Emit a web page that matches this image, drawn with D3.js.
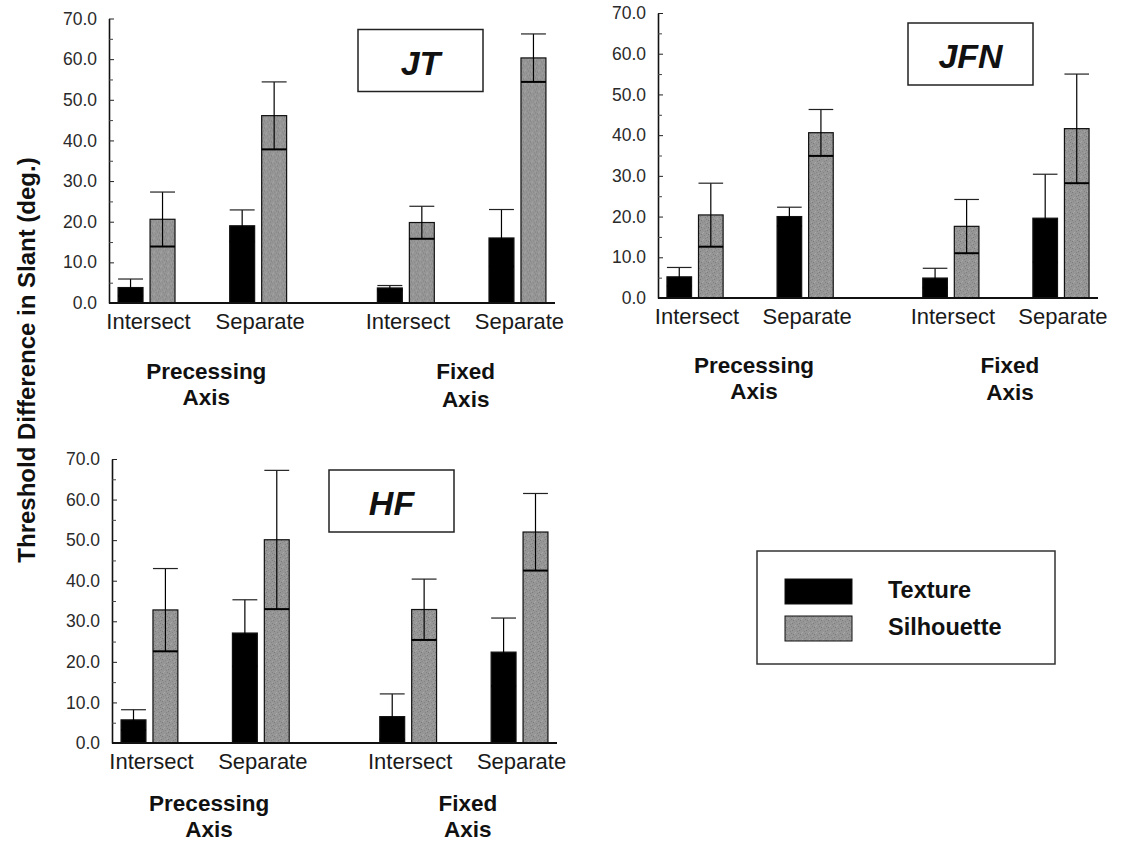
<!DOCTYPE html>
<html>
<head>
<meta charset="utf-8">
<script src="https://cdn.jsdelivr.net/npm/d3@7"></script>
<style>
  body { margin: 0; background: #fff; }
  svg { font-family: "Liberation Sans", Arial, Helvetica, sans-serif; }
</style>
</head>
<body>
<div id="chart"></div>
<script>
// ---- data ----
var axisTypes = ["Precessing", "Fixed"];
var conditions = ["Intersect", "Separate"];
var seriesNames = ["Texture", "Silhouette"];
var yTicks = [0, 10, 20, 30, 40, 50, 60, 70];

// order: Precessing-Intersect, Precessing-Separate, Fixed-Intersect, Fixed-Separate
var jtTexture = [3.8, 19.0, 3.7, 16.0];
var jtTextureErr = [2.1, 3.9, 0.6, 7.0];
var jtSilhouette = [20.6, 46.1, 19.8, 60.3];
var jtSilhouetteErr = [6.7, 8.3, 4.0, 5.9];

var jfnTexture = [5.2, 20.0, 4.9, 19.6];
var jfnTextureErr = [2.3, 2.3, 2.4, 10.8];
var jfnSilhouette = [20.4, 40.6, 17.6, 41.6];
var jfnSilhouetteErr = [7.8, 5.7, 6.6, 13.4];

var hfTexture = [5.7, 27.1, 6.5, 22.4];
var hfTextureErr = [2.5, 8.2, 5.6, 8.4];
var hfSilhouette = [32.8, 50.1, 32.9, 52.0];
var hfSilhouetteErr = [10.2, 17.1, 7.5, 9.5];

var W = 1135, H = 843;

var svg = d3.select("#chart").append("svg")
    .attr("width", W)
    .attr("height", H);

// grainy grey fill for the silhouette bars
var defs = svg.append("defs");
var pat = defs.append("pattern")
    .attr("id", "grain")
    .attr("patternUnits", "userSpaceOnUse")
    .attr("width", 7).attr("height", 7);
pat.append("rect").attr("width", 7).attr("height", 7).attr("fill", "#969696");
[[0, 0, "#7c7c7c"], [3, 2, "#a9a9a9"], [1, 4, "#7a7a7a"], [4, 5, "#858585"], [5, 1, "#838383"],
 [2, 3, "#a6a6a6"], [6, 6, "#a4a4a4"], [6, 3, "#808080"], [2, 6, "#8a8a8a"]]
    .forEach(function (p) {
        pat.append("rect").attr("x", p[0]).attr("y", p[1])
            .attr("width", 1).attr("height", 1).attr("fill", p[2]);
    });

function panel(name, tex, texErr, sil, silErr, box) {
    var g = svg.append("g")
        .attr("transform", "translate(" + box.x + "," + box.top + ")");
    var height = box.bottom - box.top;
    var width = box.width;

    var y = d3.scaleLinear().domain([0, 70]).range([height, 0]);

    var xGroup = d3.scaleBand().domain(axisTypes)
        .range([0, width]).paddingInner(0.35).paddingOuter(0.035);
    var xCond = d3.scaleBand().domain(conditions)
        .range([0, xGroup.bandwidth()]).paddingInner(0.49);
    var xSer = d3.scaleBand().domain(seriesNames)
        .range([0, xCond.bandwidth()]).paddingInner(0.22);

    var rows = [];
    axisTypes.forEach(function (a, ai) {
        conditions.forEach(function (c, ci) {
            var k = ai * 2 + ci;
            rows.push({axis: a, cond: c, series: "Texture", v: tex[k], e: texErr[k]});
            rows.push({axis: a, cond: c, series: "Silhouette", v: sil[k], e: silErr[k]});
        });
    });
    function bx(d) { return xGroup(d.axis) + xCond(d.cond) + xSer(d.series); }

    // bars
    g.selectAll("rect.bar")
        .data(rows)
        .enter().append("rect")
        .attr("class", "bar")
        .attr("x", bx)
        .attr("y", function (d) { return y(d.v); })
        .attr("width", xSer.bandwidth())
        .attr("height", function (d) { return y(0) - y(d.v); })
        .attr("fill", function (d) { return d.series === "Texture" ? "#000" : "url(#grain)"; })
        .attr("stroke", "#111")
        .attr("stroke-width", 1.2);

    // error bars
    var eb = g.selectAll("g.err")
        .data(rows)
        .enter().append("g").attr("class", "err");
    eb.append("line")
        .attr("x1", function (d) { return bx(d) + xSer.bandwidth() / 2; })
        .attr("x2", function (d) { return bx(d) + xSer.bandwidth() / 2; })
        .attr("y1", function (d) { return y(d.v + d.e); })
        .attr("y2", function (d) { return y(d.v - d.e); })
        .attr("stroke", "#000").attr("stroke-width", 1.2);
    eb.append("line")
        .attr("x1", bx)
        .attr("x2", function (d) { return bx(d) + xSer.bandwidth(); })
        .attr("y1", function (d) { return y(d.v + d.e); })
        .attr("y2", function (d) { return y(d.v + d.e); })
        .attr("stroke", "#222").attr("stroke-width", 1.2);
    eb.append("line")
        .attr("x1", bx)
        .attr("x2", function (d) { return bx(d) + xSer.bandwidth(); })
        .attr("y1", function (d) { return y(d.v - d.e); })
        .attr("y2", function (d) { return y(d.v - d.e); })
        .attr("stroke", "#000").attr("stroke-width", 2);

    // y axis, ticks pointing inward
    var yAxis = d3.axisLeft(y)
        .tickValues(yTicks)
        .tickFormat(d3.format(".1f"))
        .tickSizeInner(-5)
        .tickSizeOuter(0)
        .tickPadding(12);
    var ya = g.append("g").call(yAxis);
    ya.select(".domain").attr("stroke", "#111").attr("stroke-width", 1.6);
    ya.selectAll(".tick line").attr("stroke", "#222");
    ya.selectAll(".tick text")
        .attr("font-size", 17.5)
        .attr("fill", "#2a2a2a")
        .attr("font-family", "Liberation Sans, Arial, sans-serif");

    var minor = d3.axisLeft(y)
        .tickValues(d3.range(5, 70, 10))
        .tickFormat("")
        .tickSizeInner(-4)
        .tickSizeOuter(0);
    var ym = g.append("g").call(minor);
    ym.select(".domain").remove();
    ym.selectAll(".tick line").attr("stroke", "#444");

    // baseline
    g.append("line")
        .attr("x1", 0).attr("x2", width)
        .attr("y1", y(0)).attr("y2", y(0))
        .attr("stroke", "#111").attr("stroke-width", 2.2);

    // condition labels
    axisTypes.forEach(function (a, ai) {
        conditions.forEach(function (c) {
            g.append("text")
                .attr("x", xGroup(a) + xCond(c) + xCond.bandwidth() / 2 + 2)
                .attr("y", y(0) + 26)
                .attr("text-anchor", "middle")
                .attr("font-size", 22)
                .attr("fill", "#1a1a1a")
                .text(c);
        });
        // group labels (two lines)
        var lineGap = box.lineGaps[ai];
        var t = g.append("text")
            .attr("text-anchor", "middle")
            .attr("font-size", 22.5)
            .attr("font-weight", "bold")
            .attr("fill", "#111");
        t.append("tspan")
            .attr("x", xGroup(a) + xGroup.bandwidth() / 2 + 4)
            .attr("y", y(0) + box.labelDy)
            .text(a);
        t.append("tspan")
            .attr("x", xGroup(a) + xGroup.bandwidth() / 2 + 4)
            .attr("y", y(0) + box.labelDy + lineGap)
            .text("Axis");
    });

    // subject name box
    g.append("rect")
        .attr("x", box.nameX).attr("y", box.nameY)
        .attr("width", 125).attr("height", 62)
        .attr("fill", "#fff")
        .attr("stroke", "#222").attr("stroke-width", 1.5);
    g.append("text")
        .attr("x", box.nameX + 62.5)
        .attr("y", box.nameY + 45)
        .attr("text-anchor", "middle")
        .attr("font-size", 34)
        .attr("font-weight", "bold")
        .attr("font-style", "italic")
        .attr("fill", "#111")
        .text(name);
}

panel("JT", jtTexture, jtTextureErr, jtSilhouette, jtSilhouetteErr,
    {x: 109, top: 18.5, bottom: 303, width: 446, labelDy: 76, lineGaps: [26, 28], nameX: 249, nameY: 11});
panel("JFN", jfnTexture, jfnTextureErr, jfnSilhouette, jfnSilhouetteErr,
    {x: 658, top: 13, bottom: 298, width: 440, labelDy: 75, lineGaps: [26, 27], nameX: 250, nameY: 10});
panel("HF", hfTexture, hfTextureErr, hfSilhouette, hfSilhouetteErr,
    {x: 112, top: 459, bottom: 743, width: 445, labelDy: 68, lineGaps: [26, 26], nameX: 217, nameY: 11});

// y axis title
svg.append("text")
    .attr("transform", "translate(35,360) rotate(-90)")
    .attr("text-anchor", "middle")
    .attr("font-size", 24)
    .attr("font-weight", "bold")
    .attr("fill", "#111")
    .text("Threshold Difference in Slant (deg.)");

// legend
var legend = svg.append("g").attr("transform", "translate(757,551)");
legend.append("rect")
    .attr("width", 298).attr("height", 113)
    .attr("fill", "#fff")
    .attr("stroke", "#333").attr("stroke-width", 1.5);
var li = legend.selectAll(".item")
    .data(seriesNames)
    .enter().append("g")
    .attr("class", "item")
    .attr("transform", function (d, i) { return "translate(28," + (28 + i * 37) + ")"; });
li.append("rect")
    .attr("width", 67).attr("height", 25)
    .attr("fill", function (d) { return d === "Texture" ? "#000" : "url(#grain)"; })
    .attr("stroke", "#111").attr("stroke-width", 1);
li.append("text")
    .attr("x", 103)
    .attr("y", 19)
    .attr("font-size", 23.5)
    .attr("font-weight", "bold")
    .attr("fill", "#111")
    .text(function (d) { return d; });
</script>
</body>
</html>
